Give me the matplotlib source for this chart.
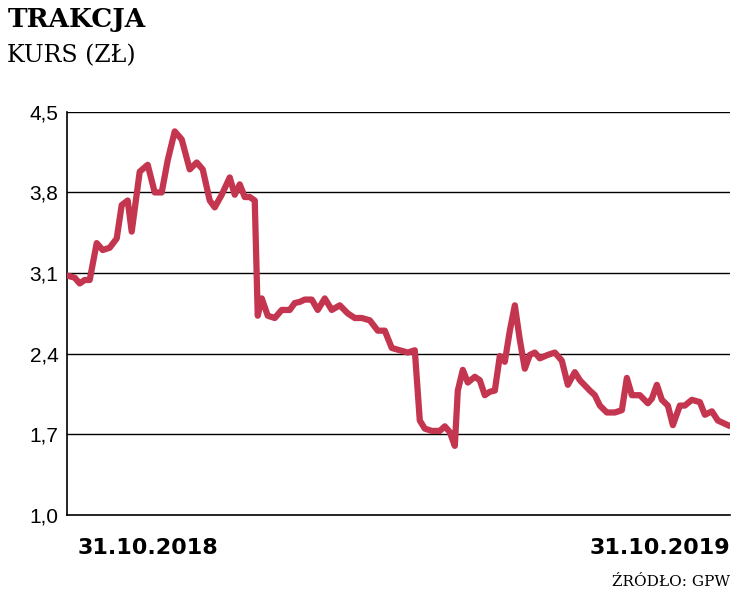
import matplotlib.pyplot as plt

# horizontal position along the year (0 = 31.10.2018, 661 = 31.10.2019)
pos = [0, 8, 13, 18, 23, 30, 36, 43, 50, 55, 61, 65, 73, 81, 88, 95, 101, 108, 115,
       123, 130, 136, 143, 148, 155, 163, 168, 173, 178, 183, 188, 191, 195, 201, 208,
       215, 223, 228, 233, 238, 245, 251, 258, 265, 273, 281, 288, 295, 303, 311, 318,
       325, 333, 341, 348, 353, 358, 365, 373, 378, 383, 388, 391, 396, 401, 408, 413,
       418, 423, 428, 433, 438, 443, 448, 453, 458, 463, 468, 473, 481, 488, 495, 501,
       508, 513, 523, 528, 533, 540, 548, 555, 560, 565, 573, 581, 585, 590, 595, 601,
       606, 613, 618, 625, 633, 638, 645, 651, 661]
kurs = [3.08, 3.06, 3.01, 3.04, 3.04, 3.36, 3.30, 3.32, 3.40, 3.69, 3.73, 3.46, 3.98,
        4.04, 3.80, 3.80, 4.08, 4.33, 4.26, 4.00, 4.06, 4.00, 3.73, 3.67, 3.78, 3.93,
        3.78, 3.87, 3.76, 3.76, 3.73, 2.73, 2.88, 2.73, 2.71, 2.78, 2.78, 2.84, 2.85,
        2.87, 2.87, 2.78, 2.88, 2.78, 2.82, 2.75, 2.71, 2.71, 2.69, 2.60, 2.60, 2.45,
        2.43, 2.41, 2.43, 1.82, 1.75, 1.73, 1.73, 1.77, 1.72, 1.60, 2.08, 2.26, 2.15,
        2.20, 2.17, 2.04, 2.07, 2.08, 2.38, 2.33, 2.60, 2.82, 2.52, 2.27, 2.39, 2.41,
        2.36, 2.39, 2.41, 2.34, 2.13, 2.24, 2.17, 2.08, 2.04, 1.95, 1.89, 1.89, 1.91,
        2.19, 2.04, 2.04, 1.97, 2.01, 2.13, 2.00, 1.95, 1.78, 1.95, 1.95, 2.00, 1.98,
        1.87, 1.90, 1.82, 1.78]
yticks = [1.0, 1.7, 2.4, 3.1, 3.8, 4.5]
ytick_labels = ["1,0", "1,7", "2,4", "3,1", "3,8", "4,5"]

fig = plt.figure(figsize=(7.41, 5.93), dpi=100)
ax = fig.add_axes([0.090, 0.1315, 0.895, 0.680])

for y in yticks[1:]:
    ax.axhline(y, color="black", lw=1, zorder=1)
ax.plot(pos, kurs, color="#c4354f", lw=4.5, solid_joinstyle="round", zorder=3)

ax.set_xlim(0, 663)
ax.set_ylim(1.0, 4.5)
ax.set_yticks(yticks)
ax.set_yticklabels(ytick_labels, fontsize=15, family="Liberation Sans")
ax.set_xticks([])
ax.tick_params(axis="y", length=0, pad=6)
for s in ["top", "right"]:
    ax.spines[s].set_visible(False)
ax.spines["left"].set_linewidth(1.2)
ax.spines["bottom"].set_linewidth(1.2)

fig.text(0.105, 0.065, "31.10.2018", fontsize=16, fontweight="bold", family="Liberation Sans Narrow", ha="left")
fig.text(0.985, 0.065, "31.10.2019", fontsize=16, fontweight="bold", family="Liberation Sans Narrow", ha="right")
fig.text(0.01, 0.955, "TRAKCJA", fontsize=19, fontweight="bold", family="DejaVu Serif", ha="left")
fig.text(0.01, 0.895, "KURS (ZŁ)", fontsize=17, family="DejaVu Serif", ha="left")
fig.text(0.985, 0.012, "ŹRÓDŁO: GPW", fontsize=11, family="DejaVu Serif", ha="right")

fig.savefig("out.png", dpi=100)
